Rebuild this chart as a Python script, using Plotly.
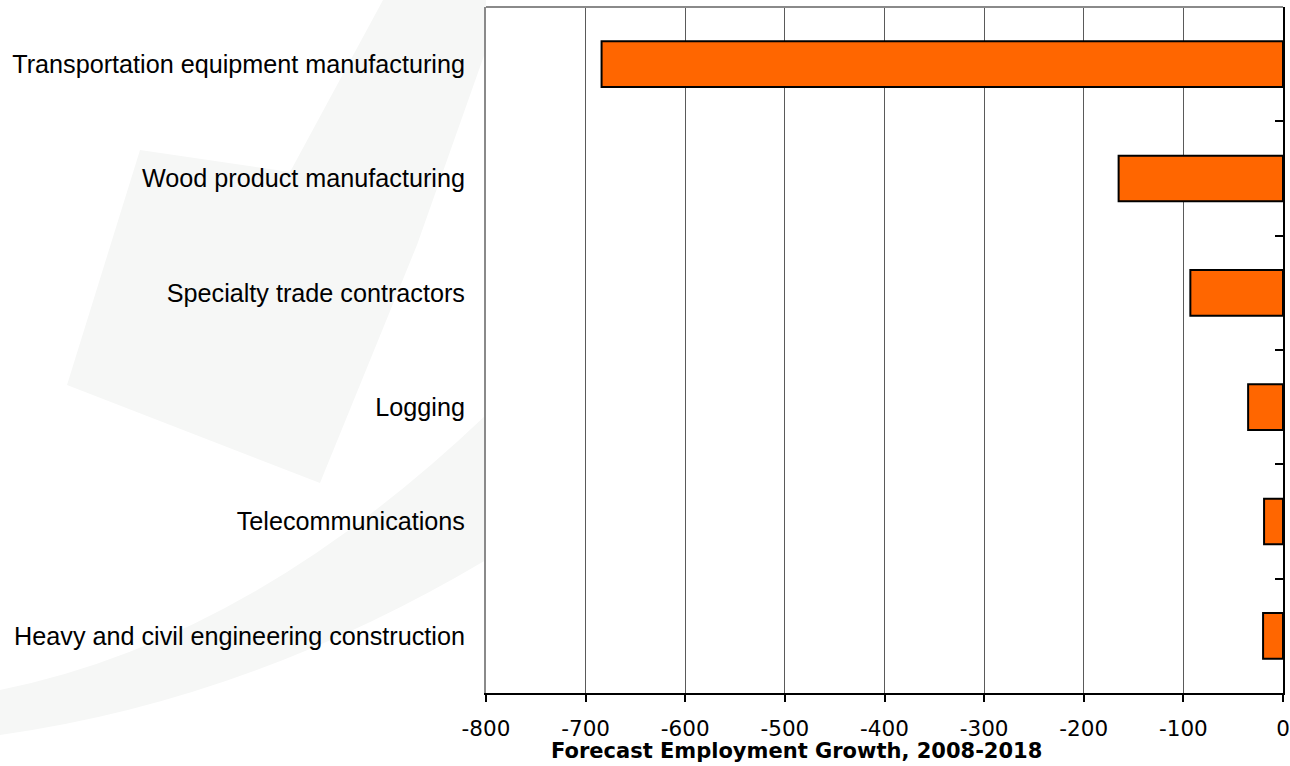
import plotly.graph_objects as go

categories = [
    "Transportation equipment manufacturing",
    "Wood product manufacturing",
    "Specialty trade contractors",
    "Logging",
    "Telecommunications",
    "Heavy and civil engineering construction",
]
growth = [-684, -165, -93, -35, -19, -20]
x_ticks = [-800, -700, -600, -500, -400, -300, -200, -100, 0]
x_title = "Forecast Employment Growth, 2008-2018"

W, H = 1290, 766
ML, MR, MT, MB = 486, 7, 7, 73
PW, PH = W - ML - MR, H - MT - MB


def px(x, y):
    """pixel position -> paper coordinates (for the faint background watermark)"""
    return (x - ML) / PW, 1 - (y - MT) / PH


def poly(points):
    parts = []
    for i, (x, y) in enumerate(points):
        a, b = px(x, y)
        parts.append(("M" if i == 0 else "L") + f"{a:.4f},{b:.4f}")
    return " ".join(parts) + " Z"


def swoosh():
    p0 = px(0, 690); c1 = px(250, 640); p1 = px(486, 415)
    p2 = px(486, 560); c2 = px(250, 700); p3 = px(0, 735)
    return (f"M{p0[0]:.4f},{p0[1]:.4f} Q{c1[0]:.4f},{c1[1]:.4f} {p1[0]:.4f},{p1[1]:.4f} "
            f"L{p2[0]:.4f},{p2[1]:.4f} Q{c2[0]:.4f},{c2[1]:.4f} {p3[0]:.4f},{p3[1]:.4f} Z")


wm = "#f6f7f6"

fig = go.Figure()
fig.add_trace(go.Bar(
    x=growth, y=categories, orientation="h",
    marker=dict(color="#FF6600", line=dict(color="#000000", width=2)),
    width=0.4, showlegend=False, hoverinfo="x+y",
))
# invisible helper trace for the right-hand axis with boundary ticks
fig.add_trace(go.Scatter(x=[None], y=[None], yaxis="y2", showlegend=False, hoverinfo="skip"))

fig.update_layout(
    width=W, height=H,
    margin=dict(l=ML, r=MR, t=MT, b=MB, pad=0),
    paper_bgcolor="#ffffff", plot_bgcolor="rgba(0,0,0,0)",
    xaxis=dict(
        range=[-800, 0], tickvals=x_ticks, ticktext=[str(v) for v in x_ticks],
        showgrid=True, gridcolor="#5a5a5a", gridwidth=1,
        zeroline=False, automargin=False,
        showline=True, linecolor="#000000", linewidth=2,
        ticks="outside", ticklen=7, tickwidth=1.5, tickcolor="#000000",
        tickfont=dict(family="DejaVu Sans", size=21.5, color="#000000"),
        ticklabelstandoff=8, ticklabeloverflow="allow",
        fixedrange=True,
    ),
    yaxis=dict(
        categoryorder="array", categoryarray=categories,
        range=[5.5, -0.5], automargin=False,
        showgrid=False, zeroline=False,
        showline=True, linecolor="#8a8a8a", linewidth=2,
        ticks="outside", ticklen=14, tickcolor="rgba(0,0,0,0)",
        tickfont=dict(family="Liberation Sans, Arial, sans-serif", size=25.2, color="#000000"),
        fixedrange=True,
    ),
    yaxis2=dict(
        overlaying="y", side="right", anchor="x", automargin=False,
        range=[5.5, -0.5], tickvals=[-0.5, 0.5, 1.5, 2.5, 3.5, 4.5],
        showticklabels=False, showgrid=False, zeroline=False,
        showline=True, linecolor="#000000", linewidth=2,
        ticks="inside", ticklen=8, tickwidth=1.5, tickcolor="#000000",
        fixedrange=True,
    ),
    shapes=[
        dict(type="path", xref="paper", yref="paper", layer="below",
             path=poly([(67, 385), (140, 150), (290, 172), (383, 0), (486, 0),
                        (486, 50), (417, 245), (320, 483)]),
             fillcolor=wm, line=dict(width=0)),
        dict(type="path", xref="paper", yref="paper", layer="below",
             path=swoosh(), fillcolor=wm, line=dict(width=0)),
        dict(type="line", xref="paper", yref="paper", x0=0, x1=1, y0=1, y1=1,
             line=dict(color="#8a8a8a", width=2), layer="above"),
    ],
    annotations=[
        dict(text=x_title, xref="paper", yref="paper",
             x=(796 - ML) / PW, y=-58 / PH,
             xanchor="center", yanchor="middle", showarrow=False,
             font=dict(family="DejaVu Sans", size=21, color="#000000", weight="bold")),
    ],
)

fig.write_html(
    "out.html",
    config={"displayModeBar": False},
    post_script="document.body.style.margin='0';document.body.style.overflow='hidden';",
)
